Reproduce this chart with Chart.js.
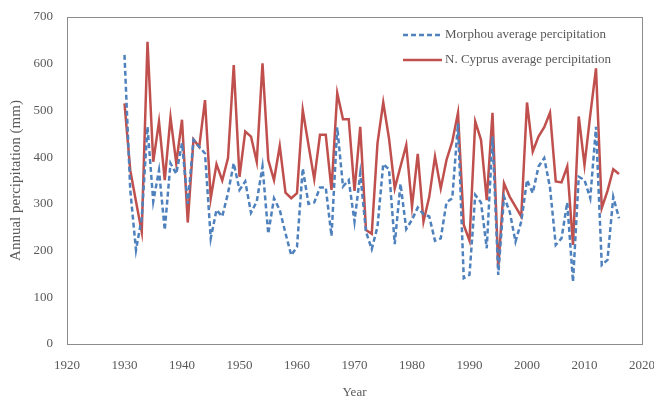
<!DOCTYPE html>
<html>
<head>
<meta charset="utf-8">
<script src="https://cdn.jsdelivr.net/npm/chart.js@4.4.1/dist/chart.umd.min.js"></script>
<style>
  html, body { margin: 0; padding: 0; background: #fff; }
  #chart { display: block; }
</style>
</head>
<body>
<canvas id="chart" width="654" height="397"></canvas>
<script>
// Años de la serie
const years = [
  1930, 1931, 1932, 1933, 1934, 1935, 1936, 1937, 1938, 1939,
  1940, 1941, 1942, 1943, 1944, 1945, 1946, 1947, 1948, 1949,
  1950, 1951, 1952, 1953, 1954, 1955, 1956, 1957, 1958, 1959,
  1960, 1961, 1962, 1963, 1964, 1965, 1966, 1967, 1968, 1969,
  1970, 1971, 1972, 1973, 1974, 1975, 1976, 1977, 1978, 1979,
  1980, 1981, 1982, 1983, 1984, 1985, 1986, 1987, 1988, 1989,
  1990, 1991, 1992, 1993, 1994, 1995, 1996, 1997, 1998, 1999,
  2000, 2001, 2002, 2003, 2004, 2005, 2006, 2007, 2008, 2009,
  2010, 2011, 2012, 2013, 2014, 2015, 2016
];

// Precipitación media de Morphou (mm)
const morphou = [
  619, 330, 201, 270, 465, 305, 372, 244, 387, 364,
  430, 300, 437, 422, 408, 226, 287, 273, 323, 387,
  330, 348, 281, 305, 380, 236, 312, 287, 237, 190,
  208, 376, 300, 303, 335, 335, 231, 464, 337, 351,
  262, 365, 240, 203, 251, 385, 374, 214, 343, 246,
  266, 292, 278, 273, 221, 226, 303, 312, 472, 141,
  148, 319, 303, 205, 444, 148, 315, 283, 219, 262,
  351, 323, 380, 398, 335, 212, 226, 303, 133, 358,
  351, 312, 465, 169, 180, 315, 269
];

// Precipitación media de N. Chipre (mm)
const nCyprus = [
  515, 372, 305, 240, 647, 390, 476, 351, 485, 387,
  480, 260, 438, 422, 522, 312, 385, 350, 398, 597,
  358, 455, 444, 390, 601, 394, 351, 424, 324, 312,
  323, 501, 426, 353, 448, 448, 330, 537, 481, 481,
  328, 465, 244, 236, 430, 517, 440, 333, 380, 426,
  294, 407, 262, 315, 401, 333, 394, 433, 495, 255,
  221, 476, 437, 308, 495, 162, 344, 315, 294, 273,
  517, 412, 444, 464, 495, 348, 346, 380, 212, 487,
  383, 490, 590, 291, 328, 374, 364
];

const seriesNames = ['Morphou average percipitation', 'N. Cyprus average percipitation'];
const xTicks = [1920, 1930, 1940, 1950, 1960, 1970, 1980, 1990, 2000, 2010, 2020];
const yTicks = [0, 100, 200, 300, 400, 500, 600, 700];

const BLUE = '#4F81BD';
const RED = '#C0504D';
const TEXT = '#595959';
const FONT = "'Liberation Serif', 'Times New Roman', serif";

const toPoints = (vals) => vals.map((v, i) => ({ x: years[i], y: v }));

// Marco gris alrededor del área del gráfico
const framePlugin = {
  id: 'frame',
  afterDraw(chart) {
    const { ctx, chartArea: a } = chart;
    ctx.save();
    ctx.strokeStyle = '#8c8c8c';
    ctx.lineWidth = 1;
    ctx.strokeRect(Math.round(a.left) + 0.5, Math.round(a.top) + 0.5,
      Math.round(a.right - a.left), Math.round(a.bottom - a.top));
    ctx.restore();
  }
};

// Leyenda dentro del área del gráfico
const legendPlugin = {
  id: 'innerLegend',
  afterDraw(chart) {
    const { ctx } = chart;
    ctx.save();
    ctx.font = '13px ' + FONT;
    ctx.textBaseline = 'middle';
    ctx.fillStyle = TEXT;
    chart.data.datasets.forEach((ds, i) => {
      const y = 35 + i * 25;
      ctx.beginPath();
      ctx.strokeStyle = ds.borderColor;
      ctx.lineWidth = 2.5;
      ctx.setLineDash(ds.borderDash || []);
      ctx.moveTo(403, y);
      ctx.lineTo(442, y);
      ctx.stroke();
      ctx.setLineDash([]);
      ctx.fillText(ds.label, 445, y);
    });
    ctx.restore();
  }
};

new Chart(document.getElementById('chart'), {
  type: 'line',
  data: {
    datasets: [
      {
        label: seriesNames[0],
        data: toPoints(morphou),
        borderColor: BLUE,
        borderWidth: 2.5,
        borderDash: [5, 3],
        pointRadius: 0,
        tension: 0,
        fill: false
      },
      {
        label: seriesNames[1],
        data: toPoints(nCyprus),
        borderColor: RED,
        borderWidth: 2.5,
        pointRadius: 0,
        tension: 0,
        fill: false
      }
    ]
  },
  options: {
    responsive: false,
    animation: false,
    layout: { padding: { top: 17, right: 12, left: 0, bottom: 0 } },
    plugins: {
      legend: { display: false },
      tooltip: { enabled: false }
    },
    scales: {
      x: {
        type: 'linear',
        min: xTicks[0],
        max: xTicks[xTicks.length - 1],
        afterBuildTicks: (s) => { s.ticks = xTicks.map(v => ({ value: v })); },
        afterFit: (s) => {
          s.height = 53;
          s.paddingLeft = 0;
          s.paddingRight = 0;
        },
        grid: { display: false, drawTicks: false },
        border: { display: false },
        ticks: {
          padding: 14,
          color: TEXT,
          font: { family: FONT, size: 13 },
          callback: (v) => String(v),
          maxRotation: 0
        },
        title: {
          display: true,
          text: 'Year',
          color: TEXT,
          font: { family: FONT, size: 13 },
          padding: { top: 0, bottom: -3 }
        }
      },
      y: {
        min: yTicks[0],
        max: yTicks[yTicks.length - 1],
        afterBuildTicks: (s) => { s.ticks = yTicks.map(v => ({ value: v })); },
        afterFit: (s) => {
          s.width = 67;
          s.paddingTop = 0;
          s.paddingBottom = 0;
        },
        grid: { display: false, drawTicks: false },
        border: { display: false },
        ticks: {
          padding: 14,
          color: TEXT,
          font: { family: FONT, size: 13 }
        },
        title: {
          display: true,
          text: 'Annual percipitation (mm)',
          color: TEXT,
          font: { family: FONT, size: 15 },
          padding: { top: 7, bottom: 0 }
        }
      }
    }
  },
  plugins: [framePlugin, legendPlugin]
});
</script>
</body>
</html>
